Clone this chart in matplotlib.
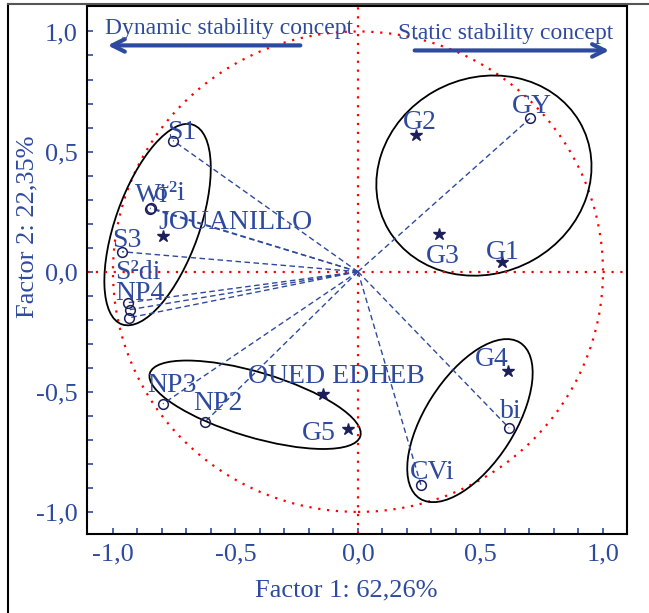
import numpy as np
import matplotlib
matplotlib.use("Agg")
import matplotlib.pyplot as plt
from matplotlib.patches import Ellipse, Circle
from matplotlib.lines import Line2D
from matplotlib.ticker import FixedLocator, FuncFormatter

# variables (open circles, joined to the origin)
var_names = ["S1", "Wi", "σ²i", "S3", "S²di", "NP4", "", "NP3", "NP2", "CVi", "bi", "GY"]
var_x = [-0.755, -0.849, -0.846, -0.963, -0.939, -0.931, -0.935, -0.796, -0.624, 0.257, 0.616, 0.702]
var_y = [0.546, 0.263, 0.266, 0.083, -0.129, -0.158, -0.192, -0.550, -0.625, -0.888, -0.650, 0.638]

# cases (stars)
case_names = ["JOUANILLO", "OUED EDHEB", "G1", "G2", "G3", "G4", "G5"]
case_x = [-0.796, -0.143, 0.588, 0.237, 0.331, 0.612, -0.041]
case_y = [0.150, -0.508, 0.042, 0.571, 0.158, -0.413, -0.654]

xlabel = "Factor 1: 62,26%"
ylabel = "Factor 2: 22,35%"
left_note = "Dynamic stability concept"
right_note = "Static stability concept"

# label offsets in pixels (left, baseline)
var_off = {"S1": (-6, 2), "Wi": (-15, 7), "σ²i": (3, 8), "S3": (-10, 5), "S²di": (-13, 24),
           "NP4": (-15, 10), "NP3": (-16, 12), "NP2": (-12, 12), "CVi": (-11, 6),
           "bi": (-9, 10), "GY": (-18, 5)}
case_off = {"JOUANILLO": (-5, 7), "OUED EDHEB": (-75, 11), "G1": (-16, 3), "G2": (-13, 6),
            "G3": (-13, -29), "G4": (-33, 5), "G5": (-46, -11)}

blue = "#2e4a9e"
navy = "#1c1f5a"
font = "Liberation Serif"

fig = plt.figure(figsize=(6.49, 6.13), dpi=100)
ax = fig.add_axes([87 / 649, 79 / 613, 540 / 649, 528 / 613])
ax.set_xlim(-1.106, 1.098)
ax.set_ylim(-1.092, 1.106)

# unit circle and zero lines
ax.add_patch(Circle((0, 0), 1.0, fill=False, color="red", ls=(0, (1, 3)), lw=1.6))
ax.axhline(0, color="red", ls=(0, (1, 3)), lw=1.6)
ax.axvline(0, color="red", ls=(0, (1, 3)), lw=1.6)

# group ellipses
for xy, w, h, a in [((-0.818, 0.196), 0.88, 0.343, 70.8),
                    ((0.514, 0.40), 0.90, 0.81, 30),
                    ((-0.42, -0.554), 0.898, 0.27, -17),
                    ((0.457, -0.62), 0.767, 0.367, 58)]:
    ax.add_patch(Ellipse(xy, w, h, angle=a, fill=False, color="black", lw=1.3))

for x, y in zip(var_x, var_y):
    ax.plot([0, x], [0, y], color=blue, ls=(0, (4, 2.5)), lw=1.0)
ax.plot(var_x, var_y, "o", mfc="none", mec=navy, ms=7, mew=1.1)
ax.plot(case_x, case_y, "*", color=navy, ms=9)

for n, x, y in zip(var_names, var_x, var_y):
    if n:
        ax.annotate(n, (x, y), xytext=var_off[n], textcoords="offset pixels",
                    ha="left", va="baseline", color=blue, fontsize=20, family=font)
for n, x, y in zip(case_names, case_x, case_y):
    ax.annotate(n, (x, y), xytext=case_off[n], textcoords="offset pixels",
                ha="left", va="baseline", color=blue, fontsize=20, family=font)

# concept notes with arrows
ax.text(-1.033, 0.9875, left_note, color=blue, fontsize=17, family=font, ha="left", va="baseline")
ax.text(0.163, 0.967, right_note, color=blue, fontsize=17, family=font, ha="left", va="baseline")
ax.annotate("", xy=(-1.033, 0.942), xytext=(-0.224, 0.942),
            arrowprops=dict(arrowstyle="->,head_length=0.9,head_width=0.45", lw=3, color=blue))
ax.annotate("", xy=(1.037, 0.921), xytext=(0.22, 0.921),
            arrowprops=dict(arrowstyle="->,head_length=0.9,head_width=0.45", lw=3, color=blue))

# ticks
major = [-1.0, -0.5, 0.0, 0.5, 1.0]
minor = np.round(np.arange(-1.0, 1.01, 0.1), 1)
for axis in (ax.xaxis, ax.yaxis):
    axis.set_major_locator(FixedLocator(major))
    axis.set_minor_locator(FixedLocator(minor))
    axis.set_major_formatter(FuncFormatter(lambda v, p: f"{v:.1f}".replace(".", ",")))
ax.tick_params(which="both", direction="in", length=4, width=1.2, color=blue,
               labelcolor=blue, labelsize=19, pad=7)
for lab in ax.get_xticklabels() + ax.get_yticklabels():
    lab.set_family(font)
for s in ax.spines.values():
    s.set_linewidth(1.5)

ax.set_xlabel(xlabel, color=blue, fontsize=19, family=font)
ax.set_ylabel(ylabel, color=blue, fontsize=19, family=font)
ax.xaxis.set_label_coords(0.48, -0.106)
ax.xaxis.label.set_va("center")
ax.yaxis.set_label_coords(-0.111, 0.582)
ax.yaxis.label.set_va("center")

# outer frame
fig.add_artist(Line2D([8 / 649, 8 / 649], [0, 1 - 4 / 613], transform=fig.transFigure, color="black", lw=1.5))
fig.add_artist(Line2D([8 / 649, 1], [1 - 4 / 613, 1 - 4 / 613], transform=fig.transFigure, color="#555555", lw=1.5))

fig.savefig("out.png", dpi=100)
